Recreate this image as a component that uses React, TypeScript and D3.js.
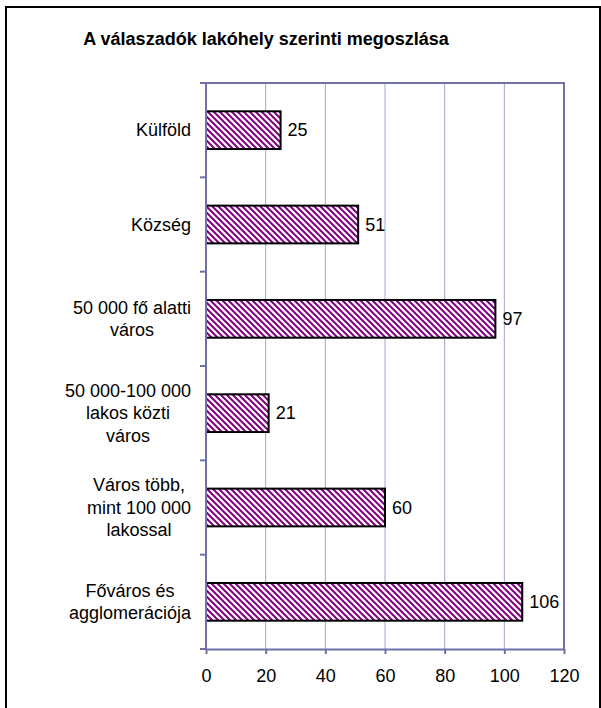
import React, { useEffect, useRef } from "react";
import * as d3 from "d3";

// categories top to bottom
const categories = [
  ["Külföld"],
  ["Község"],
  ["50 000 fő alatti", "város"],
  ["50 000-100 000", "lakos közti", "város"],
  ["Város több,", "mint 100 000", "lakossal"],
  ["Főváros és", "agglomerációja"],
];
const values = [25, 51, 97, 21, 60, 106];
const xTicks = [0, 20, 40, 60, 80, 100, 120];

const width = 601;
const height = 708;
const plot = { left: 206, right: 564, top: 83, bottom: 649 };
const axisColor = "#7070a8";
const gridColor = "#a4a4cc";
const font = "Arial, 'Liberation Sans', sans-serif";
const fs = 18;

export default function App() {
  const ref = useRef<SVGSVGElement>(null);

  useEffect(() => {
    const svg = d3.select(ref.current);
    svg.selectAll("*").remove();

    const keys = categories.map((c) => c.join(" "));
    const x = d3.scaleLinear().domain([0, 120]).range([plot.left, plot.right]);
    const y = d3
      .scaleBand()
      .domain(keys)
      .range([plot.top, plot.bottom])
      .paddingInner(0.6)
      .paddingOuter(0.3);
    const step = y.step();

    const defs = svg.append("defs");
    const pat = defs
      .append("pattern")
      .attr("id", "hatch")
      .attr("patternUnits", "userSpaceOnUse")
      .attr("width", 6)
      .attr("height", 6);
    pat.append("rect").attr("width", 6).attr("height", 6).attr("fill", "#fff");
    pat
      .append("path")
      .attr("d", "M0,0 L6,6 M-1,5 L1,7 M5,-1 L7,1")
      .attr("stroke", "#800080")
      .attr("stroke-width", 2);

    svg.append("rect").attr("width", width).attr("height", height).attr("fill", "#fff");

    // outer frame
    svg
      .append("rect")
      .attr("x", 6)
      .attr("y", 7)
      .attr("width", 594)
      .attr("height", 720)
      .attr("fill", "none")
      .attr("stroke", "#000")
      .attr("stroke-width", 2);

    svg
      .append("text")
      .attr("x", 266)
      .attr("y", 45)
      .attr("text-anchor", "middle")
      .attr("font-family", font)
      .attr("font-weight", "bold")
      .attr("font-size", fs)
      .text("A válaszadók lakóhely szerinti megoszlása");

    // gridlines
    svg
      .append("g")
      .selectAll("line")
      .data(xTicks.slice(1, -1))
      .join("line")
      .attr("x1", (d) => x(d))
      .attr("x2", (d) => x(d))
      .attr("y1", plot.top)
      .attr("y2", plot.bottom)
      .attr("stroke", gridColor)
      .attr("stroke-width", 1);

    // plot border top/right
    svg
      .append("path")
      .attr("d", `M${plot.left},${plot.top}H${plot.right}V${plot.bottom}`)
      .attr("fill", "none")
      .attr("stroke", axisColor)
      .attr("stroke-width", 2);

    // bars
    svg
      .append("g")
      .selectAll("rect")
      .data(values)
      .join("rect")
      .attr("x", x(0))
      .attr("y", (d, i) => y(keys[i])!)
      .attr("width", (d) => x(d) - x(0))
      .attr("height", y.bandwidth())
      .attr("fill", "url(#hatch)")
      .attr("stroke", "#000")
      .attr("stroke-width", 2);

    // value labels
    svg
      .append("g")
      .selectAll("text")
      .data(values)
      .join("text")
      .attr("x", (d) => x(d) + 7)
      .attr("y", (d, i) => y(keys[i])! + y.bandwidth() / 2)
      .attr("dy", "0.35em")
      .attr("font-family", font)
      .attr("font-size", fs)
      .text((d) => d);

    // x axis
    const xa = svg
      .append("g")
      .attr("transform", `translate(0,${plot.bottom})`)
      .call(d3.axisBottom(x).tickValues(xTicks).tickSize(5).tickPadding(15).tickSizeOuter(0));
    xa.select(".domain").attr("stroke", axisColor).attr("stroke-width", 2);
    xa.selectAll(".tick line").attr("stroke", axisColor).attr("stroke-width", 2);
    xa.selectAll(".tick text")
      .attr("font-family", font)
      .attr("font-size", fs)
      .attr("fill", "#000");

    // y axis line and ticks at band boundaries
    svg
      .append("line")
      .attr("x1", plot.left)
      .attr("x2", plot.left)
      .attr("y1", plot.top)
      .attr("y2", plot.bottom)
      .attr("stroke", axisColor)
      .attr("stroke-width", 2);
    const bounds = keys.map((k) => y(k)! - (step - y.bandwidth()) / 2).concat([plot.bottom]);
    svg
      .append("g")
      .selectAll("line")
      .data(bounds)
      .join("line")
      .attr("x1", plot.left - 6)
      .attr("x2", plot.left)
      .attr("y1", (d) => d)
      .attr("y2", (d) => d)
      .attr("stroke", axisColor)
      .attr("stroke-width", 2);

    // category labels: block right-aligned, lines centred in block
    const lineH = 22.5;
    categories.forEach((lines, i) => {
      const cy = y(keys[i])! + y.bandwidth() / 2;
      const g = svg.append("g");
      const texts = lines.map((l, j) =>
        g
          .append("text")
          .attr("y", cy + (j - (lines.length - 1) / 2) * lineH)
          .attr("dy", "0.35em")
          .attr("text-anchor", "middle")
          .attr("font-family", font)
          .attr("font-size", fs)
          .text(l)
      );
      const w = d3.max(texts, (t) => (t.node() as SVGTextElement).getComputedTextLength()) || 0;
      const cx = 191 - w / 2;
      texts.forEach((t) => t.attr("x", cx));
    });
  }, []);

  return (
    <svg
      ref={ref}
      width={width}
      height={height}
      style={{ position: "absolute", left: 0, top: 0, display: "block" }}
    />
  );
}
